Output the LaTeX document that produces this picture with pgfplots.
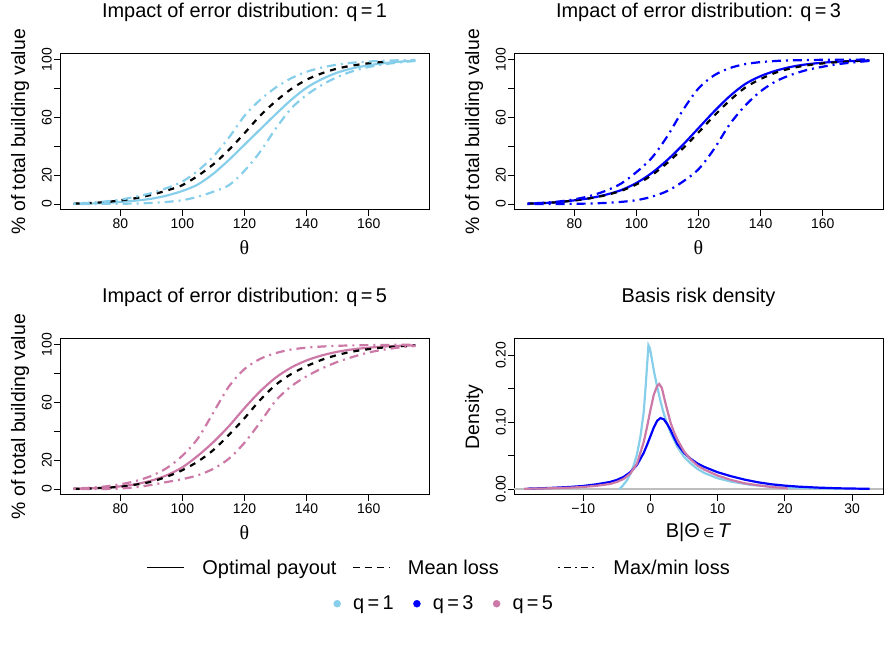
\documentclass[border=0pt]{standalone}
\usepackage{fontspec}
\setmainfont{Liberation Sans}
\newfontfamily\seriffont{Liberation Serif}
\newfontfamily\symfont{DejaVu Sans}
\usepackage{pgfplots}
\pgfplotsset{compat=1.18}

\definecolor{qone}{RGB}{135,206,235}
\definecolor{qthree}{RGB}{0,0,255}
\definecolor{qfive}{RGB}{204,121,167}
\definecolor{zeroline}{RGB}{190,190,190}

\tikzset{
  optimal/.style={line width=2.2bp},
  meanloss/.style={line width=2.2bp, dash pattern=on 6bp off 6bp},
  maxmin/.style={line width=2.2bp, dash pattern=on 2bp off 5bp on 9bp off 5bp},
}

\pgfplotsset{
  panel/.style={
    scale only axis, width=369bp, height=156bp,
    axis line style={line width=0.8bp},
    tick style={line width=0.8bp, black},
    tick align=outside, major tick length=6bp,
    xtick pos=lower, ytick pos=left,
    /pgf/number format/assume math mode=true,
    ticklabel style={font=\fontsize{14}{16}\selectfont},
    xticklabel style={anchor=north, inner sep=0pt},
    yticklabel style={rotate=90, anchor=south, inner sep=0pt},
    xticklabel shift=3bp, yticklabel shift=2bp,
    title style={at={(axis description cs:0.5,1.1923)}, anchor=base,
      font=\fontsize{20}{24}\selectfont},
    xlabel style={at={(axis description cs:0.5,-0.2436)}, anchor=center,
      font=\fontsize{20}{24}\selectfont},
    ylabel style={at={(axis description cs:-0.1084,0.5)}, anchor=center,
      font=\fontsize{19.5}{23}\selectfont},
  },
  payout/.style={
    panel,
    xmin=60.6, xmax=179.4, ymin=-4, ymax=104,
    xtick={80,100,120,140,160},
    ytick={0,20,40,60,80,100},
    yticklabels={0,20,{},60,{},100},
    xlabel={\seriffont θ},
    ylabel={\% of total building value},
  },
  keylegend/.style={
    hide axis, scale only axis, width=891bp, height=645bp,
    at={(0bp,0bp)}, anchor=south west, xmin=0, xmax=1, ymin=0, ymax=1,
    legend columns=3,
    legend style={draw=none, fill=none, inner sep=0pt, outer sep=0pt,
      anchor=west, font=\fontsize{20}{24}\selectfont,
      nodes={inner sep=0pt}, column sep=0pt},
  },
}

\begin{document}
\begin{tikzpicture}
\path (0bp,0bp) rectangle (891bp,645bp);

% ---------------- q = 1 ----------------
\begin{axis}[payout, at={(60bp,436bp)}, anchor=south west,
  title={Impact of error distribution: q\,=\,1}]
\addplot[qone, optimal, smooth] coordinates {
(65,0.1) (70,0.3) (75,0.7) (80,1.4) (85,2.3) (90,3.6) (95,5.8) (100,9) (105,13.5)
(110,21) (115,30.5) (120,41) (125,51.5) (130,62) (135,72) (140,80.5) (145,86.5)
(150,91) (155,94) (160,96) (165,97.5) (170,98.5) (175,99.2)};
\addplot[black, meanloss, smooth] coordinates {
(65,0.2) (70,0.6) (75,1.3) (80,2.4) (85,4) (90,6.3) (95,9.3) (100,13) (105,19.5)
(110,27.5) (115,37.5) (120,49) (125,61) (130,71) (135,79.5) (140,86) (145,90.5)
(150,93.8) (155,95.9) (160,97.4) (165,98.4)};
\addplot[qone, maxmin, smooth] coordinates {
(65,0.3) (70,0.8) (75,1.7) (80,3) (85,5) (90,7.5) (95,11) (100,15.5) (105,23)
(110,33) (115,46) (120,61) (125,72) (130,80.5) (135,87) (140,91.5) (145,94.5)
(150,96.5) (155,97.8) (160,98.6) (165,99.1) (170,99.5) (175,99.7)};
\addplot[qone, maxmin, smooth] coordinates {
(65,0) (70,0) (75,0.05) (80,0.15) (85,0.3) (90,0.7) (95,1.4) (100,2.6) (105,5)
(110,8.5) (115,13) (120,23) (125,36) (130,52) (135,66) (140,75.5) (145,82.5)
(150,88) (155,92) (160,94.8) (165,96.7) (170,98) (175,99)};
\end{axis}

% ---------------- q = 3 ----------------
\begin{axis}[payout, at={(514bp,436bp)}, anchor=south west,
  title={Impact of error distribution: q\,=\,3}]
\addplot[qthree, optimal, smooth] coordinates {
(65,0.2) (70,0.6) (75,1.3) (80,2.5) (85,4) (90,6.3) (95,9.5) (100,14.5) (105,21.5)
(110,30.5) (115,41) (120,52.5) (125,64) (130,74.5) (135,83) (140,88.5) (145,92.3)
(150,95) (155,96.7) (160,97.8) (165,98.5) (170,99) (175,99.4)};
\addplot[black, meanloss, smooth] coordinates {
(65,0.2) (70,0.6) (75,1.3) (80,2.4) (85,3.9) (90,6) (95,9) (100,13.5) (105,20)
(110,28.5) (115,38.5) (120,49.5) (125,61) (130,71.5) (135,80.5) (140,86.5) (145,91)
(150,94) (155,96) (160,97.3) (165,98.2) (170,98.9) (175,99.3)};
\addplot[qthree, maxmin, smooth] coordinates {
(65,0.3) (70,0.8) (75,1.7) (80,3.2) (85,5.5) (90,9) (95,14) (100,22) (105,32)
(110,47) (115,65) (120,80) (125,89) (130,94) (135,96.8) (140,98.2) (145,99)
(150,99.4) (155,99.6) (160,99.8) (165,99.9) (170,99.9) (175,100)};
\addplot[qthree, maxmin, smooth] coordinates {
(65,0) (70,0) (75,0) (80,0.1) (85,0.3) (90,0.7) (95,1.4) (100,2.6) (105,5)
(110,9) (115,15.5) (120,24) (125,38) (130,55) (135,68) (140,78) (145,85)
(150,89.5) (155,92.8) (160,95) (165,96.8) (170,98) (175,99)};
\end{axis}

% ---------------- q = 5 ----------------
\begin{axis}[payout, at={(60bp,151bp)}, anchor=south west,
  title={Impact of error distribution: q\,=\,5}]
\addplot[qfive, optimal, smooth] coordinates {
(65,0.1) (70,0.4) (75,0.9) (80,1.8) (85,3.3) (90,5.8) (95,9.5) (100,15) (105,23)
(110,32.5) (115,43.5) (120,56) (125,67.5) (130,77) (135,84) (140,89) (145,92.5)
(150,95) (155,96.7) (160,97.8) (165,98.6) (170,99.1) (175,99.5)};
\addplot[black, meanloss, smooth] coordinates {
(65,0.1) (70,0.3) (75,0.8) (80,1.5) (85,3) (90,5) (95,8.5) (100,13) (105,19)
(110,27) (115,37.5) (120,49) (125,61.5) (130,72) (135,79.5) (140,85) (145,89.5)
(150,92.8) (155,95.2) (160,96.8) (165,98) (170,98.8) (175,99.3)};
\addplot[qfive, maxmin, smooth] coordinates {
(65,0.3) (70,0.8) (75,1.7) (80,3.2) (85,5.5) (90,9) (95,14.5) (100,23) (105,35)
(110,53) (115,71) (120,83) (125,90) (130,94) (135,96.5) (140,97.8) (145,98.6)
(150,99.1) (155,99.4) (160,99.6) (165,99.7) (170,99.8) (175,99.9)};
\addplot[qfive, maxmin, smooth] coordinates {
(65,0) (70,0) (75,0) (80,0.3) (85,1.2) (90,2.8) (95,4.8) (100,6.8) (105,9.5)
(110,14) (115,21) (120,32) (125,46) (130,61) (135,71) (140,78) (145,83.5)
(150,88) (155,91.5) (160,94.5) (165,96.5) (170,98) (175,99)};
\end{axis}

% ---------------- basis risk density ----------------
\begin{axis}[panel, at={(514bp,151bp)}, anchor=south west,
  xmin=-20.3, xmax=34.6, ymin=-0.0086, ymax=0.2246,
  xtick={-10,0,10,20,30}, xticklabels={−10,0,10,20,30},
  ytick={0,0.05,0.10,0.15,0.20}, yticklabels={0.00,{},0.10,{},0.20},
  title={Basis risk density},
  xlabel={B|Θ\,{\symfont\fontsize{13}{15}\selectfont ∈}\,\textit{T}},
  ylabel={Density}]
\addplot[zeroline, line width=1.6bp] coordinates {(-20.3,0) (34.6,0)};
\addplot[qone, line width=2.2bp] coordinates {
(-4.6,0) (-4.2,0.004) (-3.5,0.013) (-3,0.022) (-2.5,0.035) (-2,0.052) (-1.5,0.078)
(-1,0.115) (-0.7,0.155) (-0.5,0.185) (-0.3,0.215) (-0.1,0.211) (0.2,0.195)
(0.5,0.177) (1,0.153) (1.5,0.131) (2,0.112) (2.5,0.097) (3,0.084) (4,0.063)
(5,0.048) (6,0.038) (7,0.030) (8,0.024) (10,0.016) (12,0.011) (15,0.006)
(18,0.0035) (20,0.0025) (25,0.001) (28.3,0.0003)};
\addplot[qthree, line width=2.2bp] coordinates {
(-18.3,0.0005) (-15,0.0015) (-12,0.003) (-10,0.0045) (-8,0.007) (-6,0.0105)
(-5,0.0135) (-4,0.018) (-3,0.025) (-2,0.036) (-1,0.054) (-0.5,0.066) (0,0.079)
(0.5,0.092) (1,0.102) (1.5,0.106) (2,0.104) (2.5,0.097) (3,0.088) (3.5,0.077)
(4,0.067) (5,0.054) (6,0.045) (7,0.038) (8,0.033) (10,0.025) (12,0.019)
(14,0.014) (16,0.010) (18,0.007) (20,0.005) (22,0.0035) (25,0.002) (28,0.001)
(32.6,0.0002)};
\addplot[qfive, line width=2.2bp] coordinates {
(-18.8,0.0003) (-15,0.001) (-12,0.002) (-10,0.003) (-8,0.0048) (-6,0.0075)
(-5,0.0105) (-4,0.015) (-3,0.023) (-2,0.038) (-1,0.07) (-0.5,0.093) (0,0.118)
(0.5,0.141) (1,0.154) (1.3,0.157) (1.7,0.151) (2,0.138) (2.5,0.118) (3,0.099)
(3.5,0.085) (4,0.074) (5,0.056) (6,0.044) (7,0.035) (8,0.029) (10,0.020)
(12,0.0135) (14,0.0085) (16,0.0055) (18,0.003) (20.4,0.001)};
\end{axis}

% ---------------- legends ----------------
\begin{axis}[keylegend,
  legend image code/.code={\draw[#1] (0bp,0bp) -- (37bp,0bp);
    \path[draw=none, fill=none] (0bp,0bp) -- (55bp,0bp);},
  legend style={at={(axis description cs:0.16498,0.12093)}}]
\addlegendimage{black, line width=1bp}
\addlegendentry{\makebox[150bp][l]{Optimal payout}}
\addlegendimage{black, line width=1bp, dash pattern=on 7bp off 5bp}
\addlegendentry{\makebox[150bp][l]{Mean loss}}
\addlegendimage{black, line width=1bp, dash pattern=on 2bp off 4bp on 7bp off 4bp}
\addlegendentry{Max/min loss}
\end{axis}

\begin{axis}[keylegend,
  legend image code/.code={\fill[#1] (0bp,0bp) circle (3.5bp);
    \path[draw=none, fill=none] (-3.5bp,0bp) -- (16bp,0bp);},
  legend style={at={(axis description cs:0.37430,0.06512)}}]
\addlegendimage{qone}
\addlegendentry{\makebox[60bp][l]{q\,=\,1}}
\addlegendimage{qthree}
\addlegendentry{\makebox[60bp][l]{q\,=\,3}}
\addlegendimage{qfive}
\addlegendentry{q\,=\,5}
\end{axis}
\end{tikzpicture}
\end{document}
